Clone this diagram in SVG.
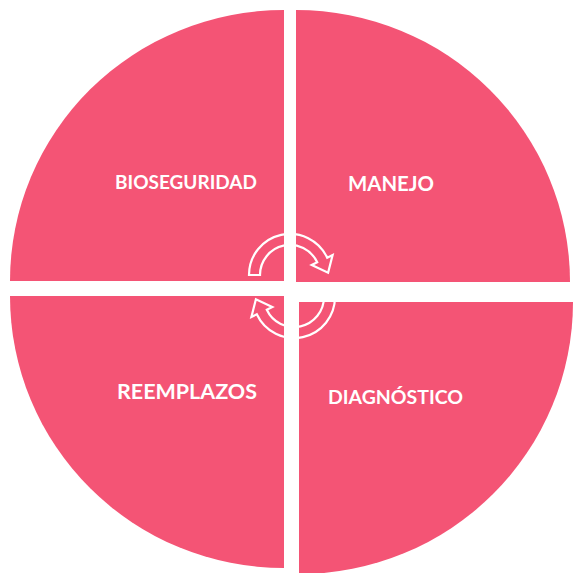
<svg xmlns="http://www.w3.org/2000/svg" width="579" height="573" viewBox="0 0 579 573">
<defs>
<style>
.q{fill:#F45475;}
.t{font-family:Lato,"Liberation Sans",sans-serif;font-weight:700;fill:#ffffff;text-anchor:middle;}
.arr{fill:none;stroke:#ffffff;stroke-width:2.2;stroke-linejoin:miter;}
</style>
</defs>
<rect width="579" height="573" fill="#ffffff"/>
<g id="bioseguridad">
<path class="q" d="M284 281 L10 281 A274 271 0 0 1 284 10 Z"/>
<text class="t" x="186" y="189" font-size="18" textLength="142" lengthAdjust="spacingAndGlyphs">BIOSEGURIDAD</text>
</g>
<g id="manejo">
<path class="q" d="M296 282 L296 10 A274 272 0 0 1 570 282 Z"/>
<text class="t" x="391" y="191" font-size="21.5" textLength="86" lengthAdjust="spacingAndGlyphs">MANEJO</text>
</g>
<g id="reemplazos">
<path class="q" d="M284 296 L284 568 A274 272 0 0 1 10 296 Z"/>
<text class="t" x="187" y="399" font-size="20.5" textLength="140" lengthAdjust="spacingAndGlyphs">REEMPLAZOS</text>
</g>
<g id="diagnostico">
<path class="q" d="M299 302 L573 302 A274 272 0 0 1 299 574 Z"/>
<text class="t" x="395.5" y="404" font-size="18" textLength="135" lengthAdjust="spacingAndGlyphs">DIAGNÓSTICO</text>
</g>
<g id="connectors">
<path class="arr" d="M249 275 A41 41 0 0 1 327.2 257.7 L332.6 255.1 L328.1 272.7 L311.7 264.9 L317.2 262.3 A30 30 0 0 0 260 275 Z"/>
<path class="arr" transform="rotate(180 292 286)" d="M249 275 A41 41 0 0 1 327.2 257.7 L332.6 255.1 L328.1 272.7 L311.7 264.9 L317.2 262.3 A30 30 0 0 0 260 275 Z"/>
</g>
</svg>
